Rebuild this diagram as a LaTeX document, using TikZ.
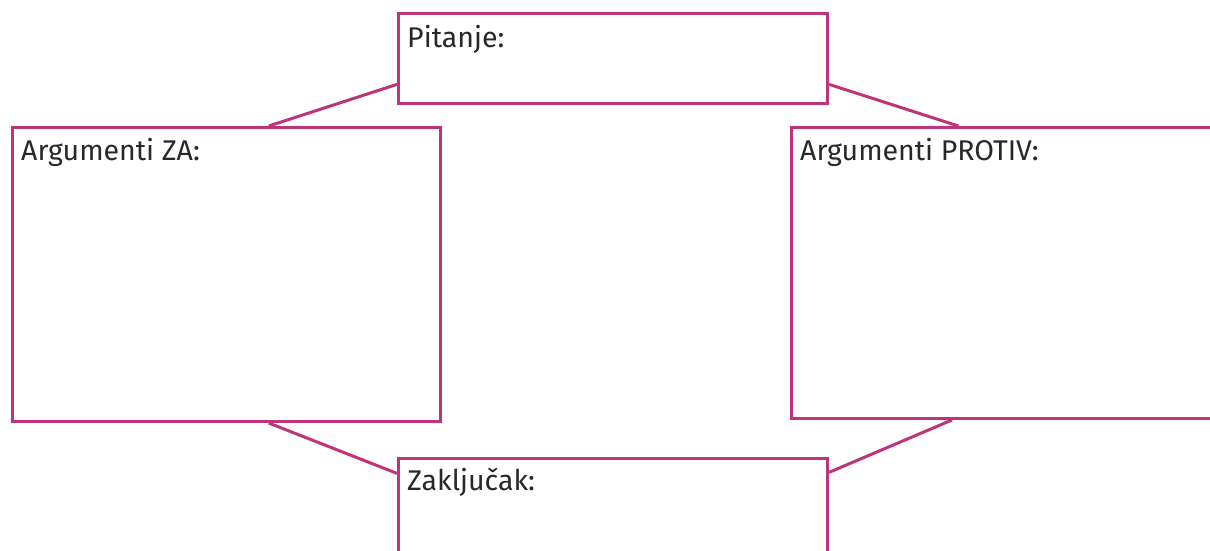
\documentclass[tikz,border=0pt]{standalone}
\usepackage{fontspec}
\setmainfont{Fira Sans}
\usetikzlibrary{calc}
\definecolor{mag}{RGB}{190,52,122}
\definecolor{txt}{RGB}{40,40,40}
\begin{document}
\begin{tikzpicture}[x=1pt,y=-1pt,
  box/.style={draw=mag,line width=3pt,rectangle,inner sep=0pt,anchor=north west,fill=white},
  lbl/.style={anchor=base west,inner sep=0pt,font=\fontsize{28.5}{34}\selectfont,text=txt},
  conn/.style={draw=mag,line width=3pt}]
\useasboundingbox (0,0) rectangle (1210,550);
\clip (0,0) rectangle (1210,550);
\node[box,minimum width=429pt,minimum height=90pt] (pit) at (397,12) {};
\node[box,minimum width=428pt,minimum height=294pt] (za) at (11,126) {};
\node[box,minimum width=430pt,minimum height=291pt] (pro) at (790,126) {};
\node[box,minimum width=429pt,minimum height=110pt] (zak) at (397,457) {};
% connector end points on the box borders
\coordinate (pl) at ($(pit.south west)!0.222!(pit.north west)$);
\coordinate (pr) at ($(pit.south east)!0.222!(pit.north east)$);
\coordinate (zt) at ($(za.north west)!0.598!(za.north east)$);
\coordinate (ptt) at ($(pro.north west)!0.389!(pro.north east)$);
\coordinate (zb) at ($(za.south west)!0.598!(za.south east)$);
\coordinate (pb) at ($(pro.south west)!0.374!(pro.south east)$);
\coordinate (kl) at ($(zak.north west)!0.145!(zak.south west)$);
\coordinate (kr) at ($(zak.north east)!0.136!(zak.south east)$);
\draw[conn] (pl) -- (zt);
\draw[conn] (pr) -- (ptt);
\draw[conn] (zb) -- (kl);
\draw[conn] (pb) -- (kr);
\node[lbl] (tpit) at (407,47) {Pitanje:};
\node[lbl] (tza) at (21,160) {Argumenti ZA:};
\node[lbl] (tpro) at (800,160) {Argumenti PROTIV:};
\node[lbl] (tzak) at (407,490) {Zaključak:};
\end{tikzpicture}
\end{document}
